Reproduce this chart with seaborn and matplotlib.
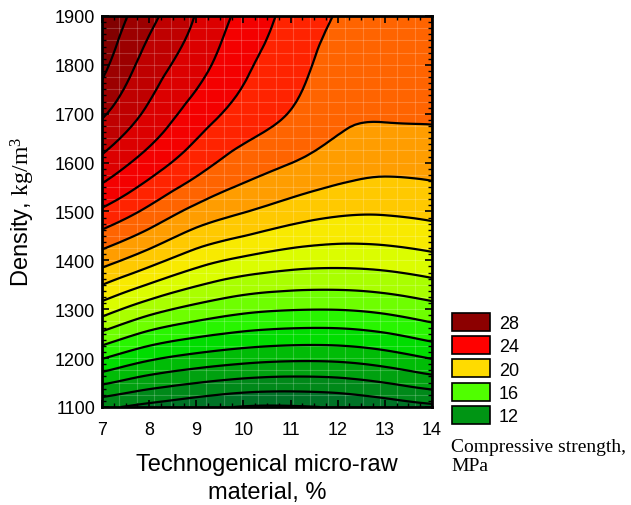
import numpy as np
import matplotlib
matplotlib.use("Agg")
import matplotlib.pyplot as plt
import matplotlib.tri as mtri
from matplotlib.colors import LinearSegmentedColormap, Normalize
from matplotlib.patches import Patch
from matplotlib.ticker import MultipleLocator
import seaborn as sns

# ---------------- data ----------------
material = [7, 8, 9, 10, 11, 12, 13, 14]          # Technogenical micro-raw material, %
density = [1100, 1200, 1300, 1400, 1500, 1600, 1700, 1800, 1900]  # kg/m3

# compressive strength (MPa) along each density row, for material = 7..14
s_1100 = [11.20, 10.72, 10.30, 9.95, 9.92, 10.08, 10.42, 10.78]
s_1200 = [15.06, 14.17, 13.68, 13.36, 13.20, 13.23, 13.53, 14.05]
s_1300 = [18.48, 17.39, 16.69, 16.24, 16.05, 16.03, 16.23, 16.63]
s_1400 = [21.41, 20.38, 19.40, 18.80, 18.45, 18.33, 18.42, 18.69]
s_1500 = [23.84, 22.76, 21.70, 21.05, 20.52, 20.17, 20.11, 20.27]
s_1600 = [25.74, 24.54, 23.42, 22.55, 22.02, 21.53, 21.30, 21.36]
s_1700 = [27.14, 25.78, 24.55, 23.62, 22.95, 22.25, 22.12, 22.15]
s_1800 = [28.30, 26.57, 25.40, 24.20, 23.40, 22.62, 22.55, 22.60]
s_1900 = [28.90, 27.30, 25.95, 24.70, 23.70, 22.95, 22.85, 22.85]

legend_values = [28, 24, 20, 16, 12]
x_ticks = [7, 8, 9, 10, 11, 12, 13, 14]
y_ticks = [1100, 1200, 1300, 1400, 1500, 1600, 1700, 1800, 1900]

# ---------------- style ----------------
sns.set_theme(style="ticks")
plt.rcParams["font.family"] = ["Liberation Sans", "DejaVu Sans"]
plt.rcParams["mathtext.fontset"] = "custom"
plt.rcParams["mathtext.rm"] = "Liberation Serif"
plt.rcParams["mathtext.it"] = "Liberation Serif:italic"
for key in ["text.color", "axes.labelcolor", "xtick.color", "ytick.color",
            "xtick.labelcolor", "ytick.labelcolor"]:
    plt.rcParams[key] = "black"

cmap_stops = [
    (9, (0, 85, 55)), (10, (0, 105, 45)), (11, (0, 125, 30)), (12, (0, 150, 20)),
    (13, (0, 175, 10)), (14, (0, 205, 0)), (15, (0, 235, 0)), (16, (80, 255, 0)),
    (17, (140, 255, 0)), (18, (200, 255, 0)), (19, (240, 250, 0)), (20, (255, 220, 0)),
    (21, (255, 185, 0)), (22, (255, 130, 0)), (23, (255, 70, 0)), (24, (255, 0, 0)),
    (26, (210, 0, 0)), (28, (140, 0, 0)), (30, (100, 0, 0)),
]
vmin, vmax = 9, 30
cmap = LinearSegmentedColormap.from_list(
    "strength",
    [((v - vmin) / (vmax - vmin), tuple(c / 255 for c in col)) for v, col in cmap_stops],
)
norm = Normalize(vmin=vmin, vmax=vmax)

fig = plt.figure(figsize=(6.31, 5.06), dpi=100)
ax = fig.add_axes([102 / 631, 98 / 506, 330 / 631, 391 / 506])
ax.set_axisbelow(False)

# ---------------- surface ----------------
X, Y = np.meshgrid(material, density)
Z = np.array([s_1100, s_1200, s_1300, s_1400, s_1500, s_1600, s_1700, s_1800, s_1900])
ys = (Y - density[0]) / 100.0
tri_s = mtri.Triangulation(X.ravel().astype(float), ys.ravel())
refiner = mtri.UniformTriRefiner(tri_s)
tri_r, z_r = refiner.refine_field(Z.ravel(), subdiv=3)
tri_plot = mtri.Triangulation(tri_r.x, density[0] + 100.0 * tri_r.y, tri_r.triangles)

fill_levels = np.arange(9, 31, 1)
line_levels = np.arange(10, 30, 1)
ax.tricontourf(tri_plot, z_r, levels=fill_levels, cmap=cmap, norm=norm, extend="both",
               zorder=1)

# faint white rendering mesh, as in the original software output
for xv in np.linspace(7, 14, 20)[1:-1]:
    ax.axvline(xv, color="white", lw=0.8, alpha=0.2, zorder=1.5)
for yv in np.linspace(1100, 1900, 33)[1:-1]:
    ax.axhline(yv, color="white", lw=0.8, alpha=0.2, zorder=1.5)

ax.tricontour(tri_plot, z_r, levels=line_levels, colors="black", linewidths=1.6, zorder=2)

ax.set_xlim(7, 14)
ax.set_ylim(1100, 1900)
ax.set_xticks(x_ticks)
ax.set_yticks(y_ticks)
ax.xaxis.set_minor_locator(MultipleLocator(0.25))
ax.yaxis.set_minor_locator(MultipleLocator(12.5))
ax.tick_params(which="both", direction="in", top=True, right=True, color="black")
ax.tick_params(which="major", length=5, width=1.2, labelsize=13)
ax.tick_params(axis="x", which="major", pad=10)
ax.tick_params(axis="y", which="major", pad=5)
ax.tick_params(which="minor", length=3, width=1)
for sp in ax.spines.values():
    sp.set_linewidth(2)
    sp.set_color("black")
    sp.set_zorder(5)

fig.text(23 / 631, 1 - 212 / 506, "Density, $\\mathrm{kg/m^3}$", rotation=90,
         ha="center", va="center", fontsize=17)
fig.text(267 / 631, 1 - 479 / 506, "Technogenical micro-raw\nmaterial, %",
         ha="center", va="center", fontsize=17, linespacing=1.35)

handles = [Patch(facecolor=cmap(norm(v)), edgecolor="black", linewidth=1.2, label=str(v))
           for v in legend_values]
fig.legend(handles=handles, loc="upper left", bbox_to_anchor=(452 / 631, 1 - 314 / 506),
           frameon=False, fontsize=13, handlelength=2.1, handleheight=1.15,
           handletextpad=0.5, labelspacing=0.23, borderpad=0, borderaxespad=0)
fig.text(451 / 631, 1 - 448 / 506, "Compressive strength,", family="Liberation Serif",
         fontsize=14, va="center", ha="left")
fig.text(451 / 631, 1 - 467 / 506, "MPa", family="Liberation Serif",
         fontsize=14, va="center", ha="left")

fig.savefig("out.png", dpi=100)
